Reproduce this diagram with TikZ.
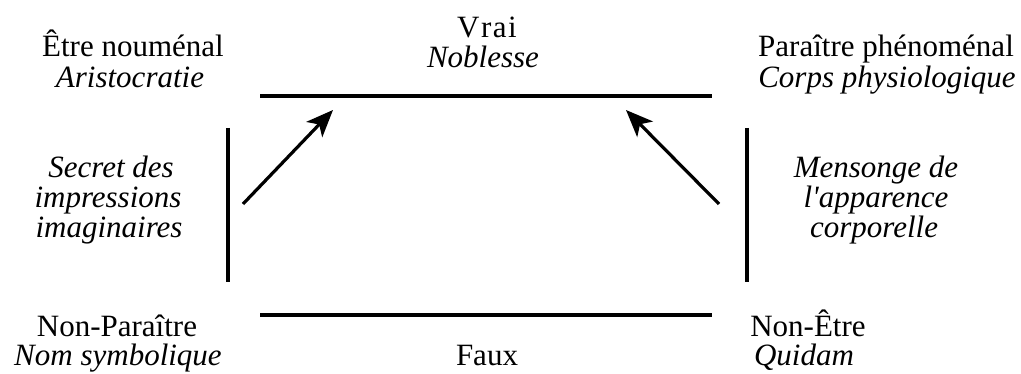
\documentclass[tikz,border=0pt]{standalone}
\usepackage{fontspec}
\setmainfont{Liberation Serif}[ItalicFont={Liberation Serif Italic},BoldFont={Liberation Serif Bold}]
\usetikzlibrary{arrows.meta}
\begin{document}
\begin{tikzpicture}[x=1pt,y=-1pt,
  lbl/.style={inner sep=0pt, anchor=base, font=\fontsize{31}{31}\selectfont},
  itl/.style={lbl, font=\fontsize{31}{31}\selectfont\itshape},
  bar/.style={line width=3.2pt},
  arr/.style={line width=3.2pt, -{Stealth[length=27pt,width=22pt,inset=7pt]}}]
\useasboundingbox (0,0) rectangle (1021,374);
% bars
\coordinate (tl) at (260,96); \coordinate (tr) at (712,96);
\coordinate (bl) at (260,315); \coordinate (br) at (712,315);
\coordinate (lt) at (228,128); \coordinate (lb) at (228,282);
\coordinate (rt) at (747,128); \coordinate (rb) at (747,282);
\draw[bar] (tl) -- (tr);
\draw[bar] (bl) -- (br);
\draw[bar] (lt) -- (lb);
\draw[bar] (rt) -- (rb);
% arrows
\coordinate (a1s) at (243,204); \coordinate (a1e) at (333,110);
\coordinate (a2s) at (719,204); \coordinate (a2e) at (626,110);
\draw[arr] (a1s) -- (a1e);
\draw[arr] (a2s) -- (a2e);
% top
\node[lbl] (vrai) at (487,38) {V\kern1.5pt r\kern1.5pt a\kern1.5pt i};
\node[itl] (noblesse) at (483,68) {Noblesse};
\node[lbl] (etre) at (133,57) {Être nouménal};
\node[itl] (aristo) at (130,88) {Aristocratie};
\node[lbl] (paraitre) at (886,57) {Paraître phénoménal};
\node[itl] (corps) at (887,88) {Corps physiologique};
% middle
\node[itl] (s1) at (111,178) {Secret des};
\node[itl] (s2) at (108,208) {impressions};
\node[itl] (s3) at (109,238) {imaginaires};
\node[itl] (m1) at (876,178) {Mensonge de};
\node[itl] (m2) at (876,208) {l\textquotesingle apparence};
\node[itl] (m3) at (874,238) {corporelle};
% bottom
\node[lbl] (nonpar) at (117,337) {Non-Paraître};
\node[itl] (nom) at (118,365) {Nom symbolique};
\node[lbl] (nonetre) at (808,337) {Non-Être};
\node[itl] (quidam) at (804,365) {Quidam};
\node[lbl] (faux) at (487,366) {Faux};
\end{tikzpicture}
\end{document}
